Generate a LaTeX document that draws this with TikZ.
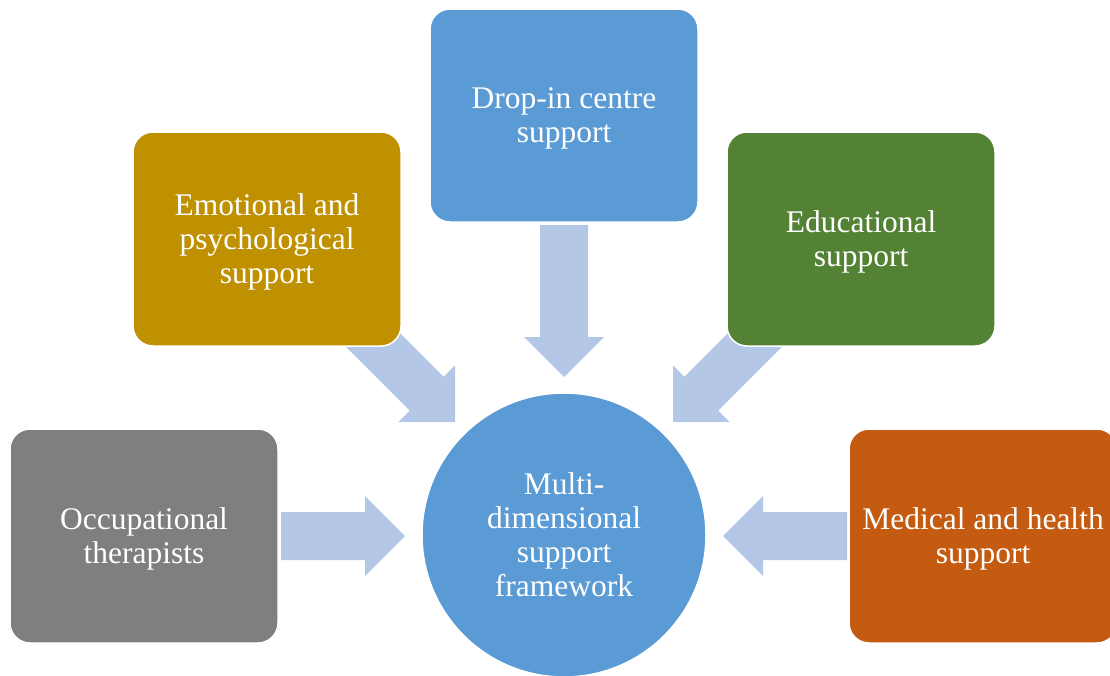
\documentclass[tikz,border=0pt]{standalone}
\usepackage{fontspec}
\setmainfont{Liberation Serif}
\definecolor{cgray}{HTML}{7F7F7F}
\definecolor{cgold}{HTML}{BF9000}
\definecolor{cblue}{HTML}{5B9BD5}
\definecolor{cgreen}{HTML}{548235}
\definecolor{corange}{HTML}{C55A11}
\definecolor{carrow}{HTML}{B4C7E7}
\begin{document}
\begin{tikzpicture}[x=1pt,y=-1pt,
  box/.style={draw=white, line width=1.5pt, rounded corners=20pt, minimum width=268pt, minimum height=214pt, inner sep=0pt, align=center, text=white, text depth=0pt, font=\fontsize{31.5}{34}\selectfont},
  hub/.style={circle, draw=white, line width=1.5pt, fill=cblue, minimum size=284pt, inner sep=0pt, align=center, text=white, font=\fontsize{31.5}{34}\selectfont},
  pics/blockarrow/.style={code={\fill[carrow] (0,0) -- (-40,40) -- (-40,24) -- (-#1,24) -- (-#1,-24) -- (-40,-24) -- (-40,-40) -- cycle;}}]
\useasboundingbox (0,0) rectangle (1110,675);
\begin{scope}
\clip (0,0) rectangle (1110,675);
% arrow tips
\coordinate (tL) at (405,536);
\coordinate (tR) at (723,536);
\coordinate (tT) at (564,377);
\coordinate (tDL) at (455,422);
\coordinate (tDR) at (673,422);
\pic[rotate=0] at (tL) {blockarrow=124};
\pic[rotate=180] at (tR) {blockarrow=124};
\pic[rotate=-90] at (tT) {blockarrow=152};
\pic[rotate=-45] at (tDL) {blockarrow=134};
\pic[rotate=-135] at (tDR) {blockarrow=134};
% nodes
\node[box, fill=cgray] (occ) at (144,536) {Occupational\\therapists};
\node[box, fill=cgold] (emo) at (267,239) {Emotional and\\psychological\\support};
\node[box, fill=cblue, minimum height=213pt] (drop) at (564,115.5) {Drop-in centre\\support};
\node[box, fill=cgreen] (edu) at (861,239) {Educational\\support};
\node[box, fill=corange] (med) at (983,536) {Medical and health\\support};
\node[hub] (hub) at (564,535) {Multi-\\dimensional\\support\\framework};
\end{scope}
\end{tikzpicture}
\end{document}
